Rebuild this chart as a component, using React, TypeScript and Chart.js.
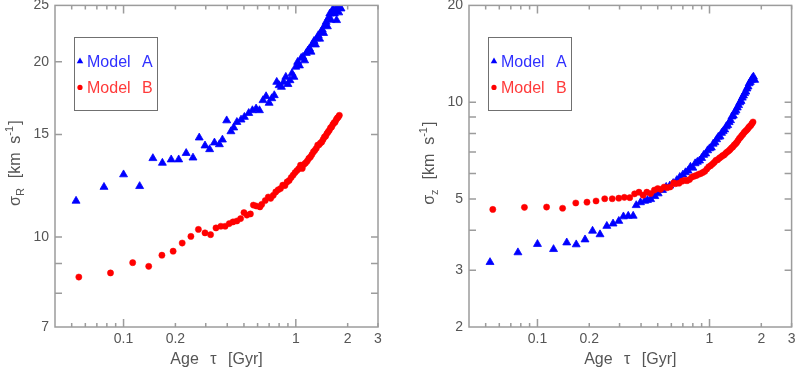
import React, { useEffect, useRef } from 'react';
import { Chart, registerables } from 'chart.js';
Chart.register(...registerables);

// ---------- data ----------
const modelAAge = [
  0.053, 0.077, 0.100, 0.124, 0.148, 0.168, 0.189, 0.209, 0.231, 0.253,
  0.275, 0.297, 0.316, 0.337, 0.360, 0.375, 0.397, 0.420, 0.436, 0.455,
  0.481, 0.503, 0.533, 0.560, 0.588, 0.615, 0.645, 0.672, 0.700, 0.725,
  0.750, 0.775, 0.800, 0.825, 0.850, 0.875, 0.900, 0.925, 0.950, 0.975,
  1.000, 1.025, 1.050, 1.075, 1.100, 1.125, 1.150, 1.175, 1.200, 1.225,
  1.250, 1.275, 1.300, 1.325, 1.350, 1.375, 1.400, 1.425, 1.450, 1.475,
  1.500, 1.525, 1.550, 1.575, 1.600, 1.625, 1.650, 1.675, 1.700, 1.725,
  1.750, 1.775, 1.800, 1.830,
];
const modelASigmaR = [
  11.53, 12.18, 12.80, 12.22, 13.65, 13.40, 13.58, 13.58, 13.93, 13.68,
  14.81, 14.35, 14.14, 14.52, 14.42, 14.69, 15.85, 15.18, 15.41, 15.75,
  15.90, 16.07, 16.32, 16.50, 16.61, 16.50, 17.17, 17.44, 16.99, 17.30,
  17.51, 18.46, 18.22, 18.10, 18.46, 18.83, 18.30, 18.58, 19.10, 18.83,
  19.60, 19.98, 19.70, 20.30, 20.38, 20.10, 20.70, 20.90, 21.07, 20.80,
  21.45, 21.70, 21.40, 21.93, 22.20, 21.90, 22.50, 22.70, 22.40, 23.10,
  23.41, 23.00, 23.80, 24.19, 23.60, 24.40, 24.68, 24.20, 24.50, 23.57,
  24.85, 24.30, 24.80, 24.68,
];
const modelASigmaZ = [
  3.18, 3.41, 3.62, 3.49, 3.66, 3.61, 3.74, 3.98, 3.88, 4.12,
  4.19, 4.27, 4.41, 4.43, 4.43, 4.78, 4.88, 4.93, 4.96, 4.99,
  5.10, 5.20, 5.33, 5.45, 5.50, 5.60, 5.72, 5.85, 5.95, 6.05,
  6.12, 6.29, 6.25, 6.45, 6.52, 6.58, 6.70, 6.85, 6.92, 7.08,
  7.18, 7.22, 7.42, 7.50, 7.66, 7.80, 7.82, 8.02, 8.12, 8.22,
  8.40, 8.48, 8.66, 8.78, 9.02, 9.08, 9.32, 9.42, 9.62, 9.78,
  9.98, 10.08, 10.32, 10.48, 10.66, 10.78, 11.02, 11.18, 11.44, 11.55,
  11.72, 11.88, 12.00, 11.72,
];

const modelBAge = [
  0.055, 0.084, 0.113, 0.140, 0.167, 0.194, 0.219, 0.246, 0.272, 0.297,
  0.320, 0.344, 0.367, 0.389, 0.411, 0.432, 0.455, 0.478, 0.500, 0.520,
  0.545, 0.567, 0.590, 0.619, 0.634, 0.665, 0.692, 0.715, 0.740, 0.765,
  0.790, 0.815, 0.840, 0.865, 0.890, 0.915, 0.940, 0.965, 0.990, 1.015,
  1.040, 1.065, 1.090, 1.115, 1.140, 1.165, 1.190, 1.215, 1.240, 1.265,
  1.290, 1.315, 1.340, 1.365, 1.390, 1.415, 1.440, 1.465, 1.490, 1.515,
  1.540, 1.565, 1.590, 1.615, 1.640, 1.665, 1.690, 1.715, 1.740, 1.765,
  1.790,
];
const modelBSigmaR = [
  8.53, 8.67, 9.03, 8.90, 9.30, 9.45, 9.76, 10.02, 10.30, 10.16,
  10.09, 10.36, 10.43, 10.43, 10.54, 10.61, 10.65, 10.75, 11.01, 10.90,
  10.95, 11.34, 11.30, 11.26, 11.37, 11.55, 11.71, 11.65, 11.79, 11.95,
  12.05, 12.11, 12.27, 12.25, 12.43, 12.50, 12.65, 12.77, 12.90, 13.00,
  13.10, 13.28, 13.11, 13.32, 13.40, 13.50, 13.64, 13.72, 13.85, 14.00,
  14.09, 14.20, 14.38, 14.40, 14.50, 14.56, 14.70, 14.85, 14.90, 15.05,
  15.15, 15.25, 15.40, 15.45, 15.60, 15.70, 15.75, 15.90, 16.00, 16.07,
  16.18,
];
const modelBSigmaZ = [
  4.64, 4.71, 4.72, 4.68, 4.86, 4.89, 4.93, 5.01, 5.01, 5.03,
  5.06, 5.05, 5.19, 5.25, 5.14, 5.25, 5.20, 5.33, 5.39, 5.36,
  5.45, 5.42, 5.45, 5.61, 5.58, 5.60, 5.68, 5.72, 5.70, 5.75,
  5.85, 5.89, 5.92, 5.97, 6.00, 6.05, 6.10, 6.20, 6.30, 6.35,
  6.42, 6.50, 6.60, 6.62, 6.70, 6.75, 6.82, 6.85, 6.93, 7.00,
  7.05, 7.12, 7.20, 7.26, 7.35, 7.42, 7.50, 7.60, 7.71, 7.78,
  7.88, 7.95, 8.05, 8.12, 8.18, 8.25, 8.35, 8.42, 8.48, 8.58,
  8.68,
];

const seriesNames = ['Model A', 'Model B'];

// ---------- axes ----------
const xRange = [0.04, 3];
const xLabelTicks = [0.1, 0.2, 1, 2, 3];
const xMajorTicks = [0.1, 1];
const xMinorTicks = [0.05, 0.06, 0.07, 0.08, 0.09, 0.2, 0.3, 0.4, 0.5, 0.6, 0.7, 0.8, 0.9, 2, 3];

const leftYRange = [7, 25];
const leftYLabels = [7, 10, 15, 20, 25];
const leftYTicks = [8, 9, 10, 15, 20];

const rightYRange = [2, 20];
const rightYLabels = [2, 3, 5, 10, 20];
const rightYTicks = [3, 4, 5, 6, 7, 8, 9, 10];

const BLUE = '#0000ff';
const RED = '#ff0000';
const FRAME = '#9c9c9c';
const TEXT = '#555555';
const FONT = "'Liberation Sans', Arial, sans-serif";

type PanelProps = {
  a: number[];
  b: number[];
  yRange: number[];
  yLabels: number[];
  yTicks: number[];
  sub: string;
  width: number;
  yAxisWidth: number;
  padRight: number;
  left: number;
};

function drawYTitle(ctx: CanvasRenderingContext2D, x: number, yc: number, sub: string) {
  const big = `16px ${FONT}`;
  const small = `11px ${FONT}`;
  const parts = [
    { t: 'σ', f: big, dy: 0 },
    { t: sub, f: small, dy: 4 },
    { t: '  [km  s', f: big, dy: 0 },
    { t: '-1', f: small, dy: -7 },
    { t: ']', f: big, dy: 0 },
  ];
  ctx.save();
  (ctx as any).wordSpacing = '0px';
  let total = 0;
  const widths: number[] = [];
  for (const p of parts) {
    ctx.font = p.f;
    const w = ctx.measureText(p.t).width + (p.f === small ? 1 : 0);
    widths.push(w);
    total += w;
  }
  ctx.translate(x, yc);
  ctx.rotate(-Math.PI / 2);
  ctx.fillStyle = TEXT;
  ctx.textBaseline = 'alphabetic';
  ctx.textAlign = 'left';
  let cx = -total / 2;
  parts.forEach((p, i) => {
    ctx.font = p.f;
    ctx.fillText(p.t, cx, p.dy);
    cx += widths[i];
  });
  ctx.restore();
}

function Panel(props: PanelProps) {
  const ref = useRef<HTMLCanvasElement>(null);
  useEffect(() => {
    const { a, b, yRange, yLabels, yTicks, sub } = props;
    const framePlugin = {
      id: 'frameTicks',
      afterDraw(chart: any) {
        const { ctx, chartArea: ca, scales } = chart;
        const xs = scales.x;
        const ys = scales.y;
        ctx.save();
        ctx.strokeStyle = FRAME;
        ctx.lineWidth = 1.5;
        ctx.strokeRect(ca.left, ca.top, ca.right - ca.left, ca.bottom - ca.top);
        ctx.beginPath();
        for (const v of [...xMajorTicks, ...xMinorTicks]) {
          const len = xMajorTicks.includes(v) ? 8 : 4;
          const px = xs.getPixelForValue(v);
          ctx.moveTo(px, ca.bottom);
          ctx.lineTo(px, ca.bottom - len);
          ctx.moveTo(px, ca.top);
          ctx.lineTo(px, ca.top + len);
        }
        for (const v of yTicks) {
          const py = ys.getPixelForValue(v);
          ctx.moveTo(ca.left, py);
          ctx.lineTo(ca.left + 7, py);
          ctx.moveTo(ca.right, py);
          ctx.lineTo(ca.right - 7, py);
        }
        ctx.stroke();

        // legend
        const bx = ca.left + 19;
        const by = ca.top + 32;
        const bw = 83;
        const bh = 73;
        ctx.strokeStyle = '#707070';
        ctx.lineWidth = 1;
        ctx.strokeRect(Math.round(bx) + 0.5, Math.round(by) + 0.5, bw, bh);
        const mx = bx + 6;
        const r1 = by + 24;
        const r2 = by + 50;
        ctx.fillStyle = BLUE;
        ctx.beginPath();
        const tr = 3.8;
        ctx.moveTo(mx, r1 - tr);
        ctx.lineTo(mx + tr * 0.866, r1 + tr * 0.5);
        ctx.lineTo(mx - tr * 0.866, r1 + tr * 0.5);
        ctx.closePath();
        ctx.fill();
        ctx.fillStyle = RED;
        ctx.beginPath();
        ctx.arc(mx, r2, 2.6, 0, Math.PI * 2);
        ctx.fill();
        ctx.font = `16px ${FONT}`;
        (ctx as any).wordSpacing = '7px';
        ctx.textAlign = 'left';
        ctx.textBaseline = 'alphabetic';
        ctx.fillStyle = '#3030ff';
        ctx.fillText(seriesNames[0], bx + 13, r1 + 6);
        ctx.fillStyle = '#ff3a3a';
        ctx.fillText(seriesNames[1], bx + 13, r2 + 6);

        // x title
        (ctx as any).wordSpacing = '7px';
        ctx.fillStyle = TEXT;
        ctx.textAlign = 'center';
        ctx.font = `16px ${FONT}`;
        ctx.fillText('Age τ [Gyr]', (ca.left + ca.right) / 2, ca.bottom + 37);
        ctx.restore();

        drawYTitle(ctx, ca.left - 35, (ca.top + ca.bottom) / 2 - 3, sub);
      },
    };

    const chart = new Chart(ref.current as HTMLCanvasElement, {
      type: 'scatter',
      data: {
        datasets: [
          {
            label: seriesNames[1],
            data: modelBAge.map((x, i) => ({ x, y: b[i] })),
            pointStyle: 'circle',
            pointRadius: 3.1,
            backgroundColor: RED,
            borderColor: RED,
            borderWidth: 0.5,
          },
          {
            label: seriesNames[0],
            data: modelAAge.map((x, i) => ({ x, y: a[i] })),
            pointStyle: 'triangle',
            pointRadius: 4.6,
            backgroundColor: BLUE,
            borderColor: BLUE,
            borderWidth: 0.8,
          },
        ],
      },
      options: {
        animation: false,
        responsive: false,
        events: [],
        layout: { padding: { top: 5, right: props.padRight, left: 0, bottom: 0 } },
        plugins: { legend: { display: false }, tooltip: { enabled: false } },
        scales: {
          x: {
            type: 'logarithmic',
            min: xRange[0],
            max: xRange[1],
            grid: { display: false, drawTicks: false },
            border: { display: false },
            ticks: {
              autoSkip: false,
              maxRotation: 0,
              minRotation: 0,
              padding: 4,
              color: TEXT,
              font: { family: FONT, size: 14 },
              callback: (v: any) => String(v),
            },
            afterBuildTicks: (axis: any) => {
              axis.ticks = xLabelTicks.map((v) => ({ value: v }));
            },
            afterFit: (axis: any) => {
              axis.height = 41;
              axis.paddingLeft = 0;
              axis.paddingRight = 0;
            },
          },
          y: {
            type: 'logarithmic',
            min: yRange[0],
            max: yRange[1],
            grid: { display: false, drawTicks: false },
            border: { display: false },
            ticks: {
              autoSkip: false,
              padding: 6,
              color: TEXT,
              font: { family: FONT, size: 14 },
              callback: (v: any) => String(v),
            },
            afterBuildTicks: (axis: any) => {
              axis.ticks = yLabels.map((v) => ({ value: v }));
            },
            afterFit: (axis: any) => {
              axis.width = props.yAxisWidth;
              axis.paddingTop = 0;
              axis.paddingBottom = 0;
            },
          },
        },
      },
      plugins: [framePlugin],
    } as any);
    return () => chart.destroy();
  }, []);
  return (
    <canvas
      ref={ref}
      width={props.width}
      height={368}
      style={{ position: 'absolute', left: props.left, top: 0, width: props.width, height: 368 }}
    />
  );
}

export default function App() {
  return (
    <div style={{ position: 'fixed', left: 0, top: 0, width: 797, height: 368, background: '#fff' }}>
      <Panel
        a={modelASigmaR}
        b={modelBSigmaR}
        yRange={leftYRange}
        yLabels={leftYLabels}
        yTicks={leftYTicks}
        sub="R"
        width={397}
        yAxisWidth={55}
        padRight={19}
        left={0}
      />
      <Panel
        a={modelASigmaZ}
        b={modelBSigmaZ}
        yRange={rightYRange}
        yLabels={rightYLabels}
        yTicks={rightYTicks}
        sub="z"
        width={400}
        yAxisWidth={72}
        padRight={4}
        left={397}
      />
    </div>
  );
}
